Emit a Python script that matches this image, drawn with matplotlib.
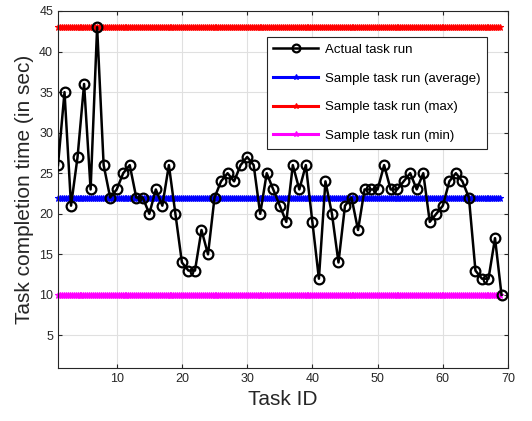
import numpy as np
import matplotlib
matplotlib.use("Agg")
import matplotlib.pyplot as plt

plt.rcParams['font.family'] = ['Liberation Sans', 'DejaVu Sans']

task_ids = list(range(1, 70))
actual = [26, 35, 21, 27, 36, 23, 43, 26, 22, 23,
          25, 26, 22, 22, 20, 23, 21, 26, 20, 14,
          13, 13, 18, 15, 22, 24, 25, 24, 26, 27,
          26, 20, 25, 23, 21, 19, 26, 23, 26, 19,
          12, 24, 20, 14, 21, 22, 18, 23, 23, 23,
          26, 23, 23, 24, 25, 23, 25, 19, 20, 21,
          24, 25, 24, 22, 13, 12, 12, 17, 10]
sample_avg = 22
sample_max = 43
sample_min = 10

# dense x grid for the flat reference lines (markers look like a band)
flat_x = np.arange(1, 69.01, 0.3)

fig = plt.figure(figsize=(5.32, 4.21), dpi=100)
ax = fig.add_axes([0.109, 0.126, 0.846, 0.848])

ax.plot(task_ids, actual, color='black', lw=1.8, marker='o', ms=7,
        mfc='none', mew=1.6, label='Actual task run', zorder=5)
for val, col, lab in [(sample_avg, 'blue', 'Sample task run (average)'),
                      (sample_max, 'red', 'Sample task run (max)'),
                      (sample_min, 'magenta', 'Sample task run (min)')]:
    ax.plot(flat_x, np.full(len(flat_x), val), color=col, lw=2.2,
            marker='*', ms=5, mew=0.8, label=lab, clip_on=False)

ax.set_xlim(1, 70)
ax.set_ylim(1, 45)
ax.set_xticks(range(10, 71, 10))
ax.set_yticks(range(5, 46, 5))
ax.tick_params(direction='in', top=True, right=True, labelsize=9,
               colors='#262626', length=3)
ax.grid(True, color='#e0e0e0', lw=0.8)
ax.set_axisbelow(True)
for s in ax.spines.values():
    s.set_color('#262626')
    s.set_linewidth(0.8)

ax.set_xlabel('Task ID', fontsize=15, color='#262626')
ax.set_ylabel('Task completion time (in sec)', fontsize=15, color='#262626')

leg = ax.legend(loc='upper right', bbox_to_anchor=(0.953, 0.927),
                borderaxespad=0, fontsize=9.5, fancybox=False,
                edgecolor='#262626', framealpha=1, handlelength=3.4,
                labelspacing=1.25, markerscale=0.8, handletextpad=0.5,
                borderpad=0.5)
leg.get_frame().set_linewidth(0.8)

fig.savefig('out.png', dpi=100)
